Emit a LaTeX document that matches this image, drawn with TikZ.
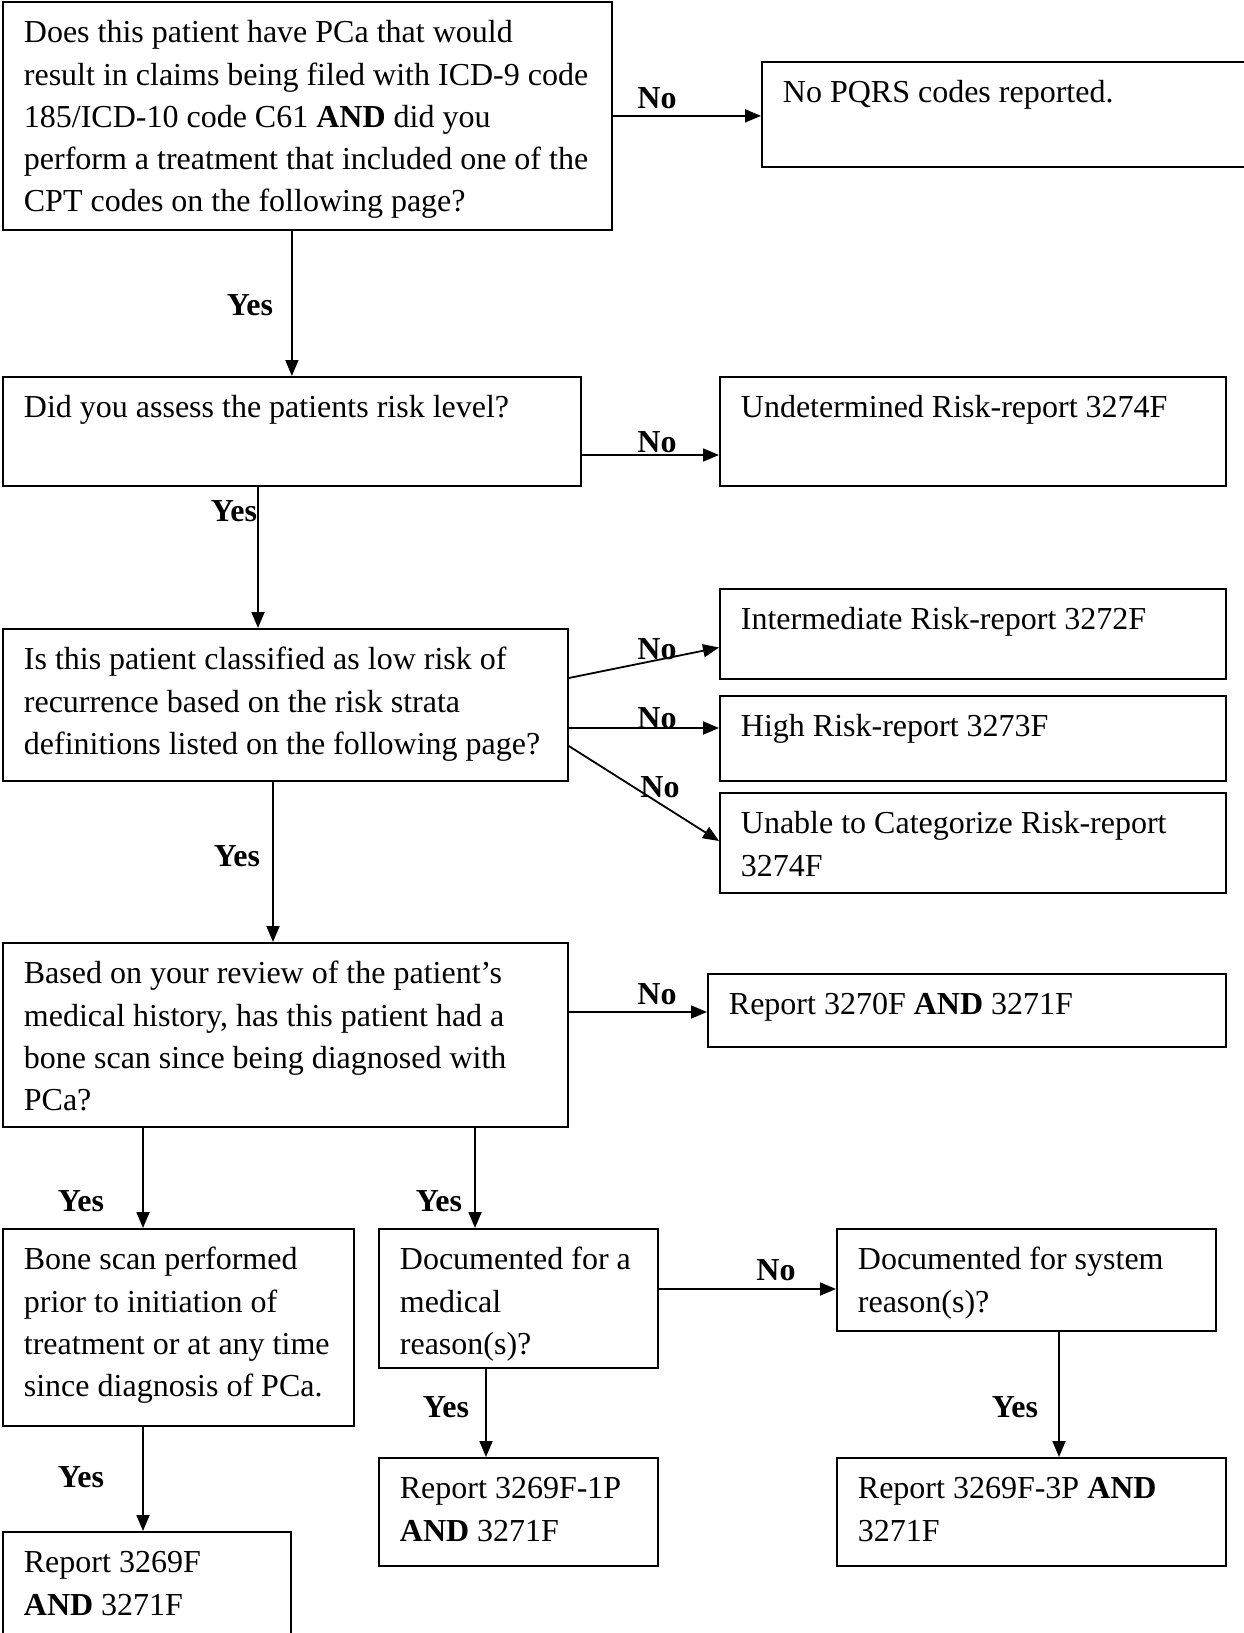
\documentclass[tikz,border=0pt]{standalone}
\usepackage{fontspec}
\setmainfont{Liberation Serif}
\usetikzlibrary{arrows.meta}
\newcommand{\boxtxt}[3]{\parbox[t][#2pt][t]{#1pt}{\raggedright\strut #3}}
\tikzset{
  fbox/.style={draw, line width=1.8pt, inner xsep=21pt, inner ysep=11.5pt, anchor=north west,
    font=\fontsize{32pt}{42.2pt}\selectfont},
  lbl/.style={inner sep=0pt, font=\fontsize{32pt}{42.2pt}\selectfont\bfseries},
  arr/.style={line width=1.8pt, -{Triangle[length=16pt,width=13pt]}}
}
\begin{document}
\begin{tikzpicture}[x=1pt, y=-1pt]
\useasboundingbox (0,0) rectangle (1243,1633);
% boxes: W-42, H-23
\node[fbox] (q1) at (2,1) {\boxtxt{567}{205}{Does this patient have PCa that would\\ result in claims being filed with ICD-9 code\\ 185/ICD-10 code C61 \textbf{AND} did you\\ perform a treatment that included one of the\\ CPT codes on the following page?}};
\node[fbox] (r1) at (761,61) {\boxtxt{447}{82}{No PQRS codes reported.}};
\node[fbox] (q2) at (2,376) {\boxtxt{536}{86}{Did you assess the patients risk level?}};
\node[fbox] (r2) at (719,376) {\boxtxt{464}{86}{Undetermined Risk-report 3274F}};
\node[fbox] (q3) at (2,628) {\boxtxt{523}{129}{Is this patient classified as low risk of\\ recurrence based on the risk strata\\ definitions listed on the following page?}};
\node[fbox] (r3a) at (719,588) {\boxtxt{464}{67}{Intermediate Risk-report 3272F}};
\node[fbox] (r3b) at (719,695) {\boxtxt{464}{62}{High Risk-report 3273F}};
\node[fbox] (r3c) at (719,792) {\boxtxt{464}{77}{Unable to Categorize Risk-report\\ 3274F}};
\node[fbox] (q4) at (2,942) {\boxtxt{523}{161}{Based on your review of the patient’s\\ medical history, has this patient had a\\ bone scan since being diagnosed with\\ PCa?}};
\node[fbox] (r4) at (707,973) {\boxtxt{476}{50}{Report 3270F \textbf{AND} 3271F}};
\node[fbox] (b1) at (2,1228) {\boxtxt{309}{174}{Bone scan performed\\ prior to initiation of\\ treatment or at any time\\ since diagnosis of PCa.}};
\node[fbox] (m1) at (378,1228) {\boxtxt{237}{116}{Documented for a\\ medical\\ reason(s)?}};
\node[fbox] (s1) at (836,1228) {\boxtxt{337}{79}{Documented for system\\ reason(s)?}};
\node[fbox] (e1) at (2,1531) {\boxtxt{246}{97}{Report 3269F\\ \textbf{AND} 3271F}};
\node[fbox] (e2) at (378,1457) {\boxtxt{237}{85}{Report 3269F-1P\\ \textbf{AND} 3271F}};
\node[fbox] (e3) at (836,1457) {\boxtxt{347}{85}{Report 3269F-3P \textbf{AND}\\ 3271F}};
% connectors
\draw[arr] (q1.east) -- (r1.west |- q1.east);
\draw[arr] (q2.north |- q1.south) -- (q2.north);
\draw[arr] ([yshift=-79pt]q2.north east) -- ([yshift=-79pt]r2.north west);
\draw[arr] ([xshift=256pt]q2.south west) -- ([xshift=256pt]q3.north west);
\draw[arr] ([yshift=-50pt]q3.north east) -- ([yshift=-59.5pt]r3a.north west);
\draw[arr] ([yshift=-100pt]q3.north east) -- ([yshift=-33pt]r3b.north west);
\draw[arr] ([yshift=-118pt]q3.north east) -- ([yshift=-49pt]r3c.north west);
\draw[arr] ([xshift=271pt]q3.south west) -- ([xshift=271pt]q4.north west);
\draw[arr] ([yshift=-70pt]q4.north east) -- ([yshift=-39pt]r4.north west);
\draw[arr] ([xshift=141pt]q4.south west) -- ([xshift=141pt]b1.north west);
\draw[arr] ([xshift=97pt]m1.north west |- q4.south) -- ([xshift=97pt]m1.north west);
\draw[arr] ([yshift=-61pt]m1.north east) -- ([yshift=-61pt]s1.north west);
\draw[arr] ([xshift=141pt]b1.south west) -- ([xshift=141pt]e1.north west);
\draw[arr] ([xshift=108pt]m1.south west) -- ([xshift=108pt]e2.north west);
\draw[arr] ([xshift=223pt]s1.south west) -- ([xshift=223pt]e3.north west);
% labels
\node[lbl] (n1) at (657,98) {No};
\node[lbl] (n2) at (657,442) {No};
\node[lbl] (n3) at (657,649) {No};
\node[lbl] (n4) at (657,718) {No};
\node[lbl] (n5) at (660,787) {No};
\node[lbl] (n6) at (657,994) {No};
\node[lbl] (n7) at (776,1270) {No};
\node[lbl] (y1) at (250,305) {Yes};
\node[lbl] (y2) at (234,511) {Yes};
\node[lbl] (y3) at (237,856) {Yes};
\node[lbl] (y4) at (81,1201) {Yes};
\node[lbl] (y5) at (439,1201) {Yes};
\node[lbl] (y6) at (81,1477) {Yes};
\node[lbl] (y7) at (446,1407) {Yes};
\node[lbl] (y8) at (1015,1407) {Yes};
\end{tikzpicture}
\end{document}
